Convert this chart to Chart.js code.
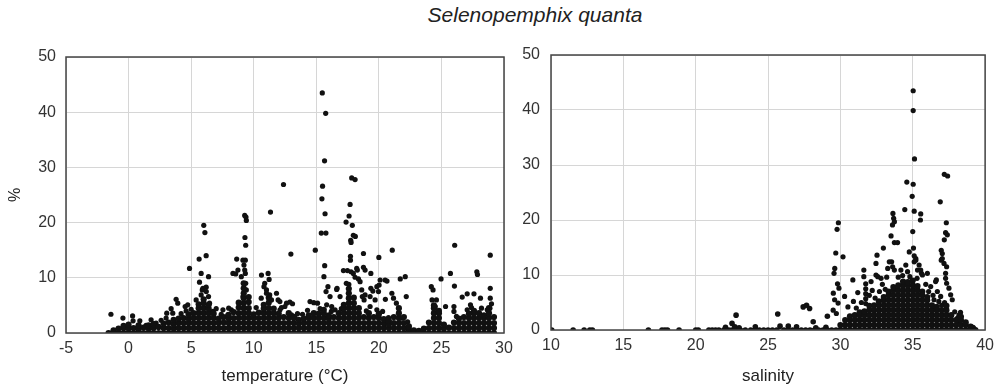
<!DOCTYPE html>
<html>
<head>
<meta charset="utf-8">
<script src="https://cdn.jsdelivr.net/npm/chart.js@4.4.1/dist/chart.umd.min.js"></script>
<style>
  body { margin: 0; background: #fff; }
  #wrap { position: relative; width: 1000px; height: 390px; overflow: hidden; }
  #title { position: absolute; top: 3px; left: 335px; width: 400px; text-align: center;
           font: italic 21px "Liberation Sans", Arial, sans-serif; color: #222; }
  .panel { position: absolute; top: 0; height: 390px; }
  #tempBox { left: 0; width: 520px; }
  #salBox { left: 510px; width: 490px; }
</style>
</head>
<body>
<div id="wrap">
  <div id="title">Selenopemphix quanta</div>
  <div class="panel" id="tempBox"><canvas id="tempChart"></canvas></div>
  <div class="panel" id="salBox"><canvas id="salChart"></canvas></div>
</div>
<script>
// axis ticks
const pctTicks = [0, 10, 20, 30, 40, 50];
const tempTicks = [-5, 0, 5, 10, 15, 20, 25, 30];
const salTicks = [10, 15, 20, 25, 30, 35, 40];

// temperature: dense low-abundance samples, one row per temperature [x, y, y, ...]
const tempLow = [
  [-1.6, 0], [-1.2, 0, 0.5], [-0.8, 0, 0.8], [-0.4, 0, 0.9, 1.3], [0.0, 0, 0.8, 1.5],
  [0.4, 0, 0.9], [0.8, 0, 0.7, 1.4], [1.2, 0, 1.0], [1.6, 0, 0.8, 1.4], [2.0, 0, 0.9, 1.6],
  [2.4, 0, 1.1], [2.8, 0, 0.9, 1.7], [3.2, 0, 0.9, 1.9], [3.6, 0, 0.8, 1.6, 2.4],
  [4.0, 0, 0.9, 1.8, 2.6], [4.4, 0, 0.9, 1.8, 2.7], [4.8, 0, 0.9, 1.8, 2.6, 3.4],
  [5.2, 0, 0.9, 1.8, 2.7, 3.6], [5.6, 0, 0.9, 1.8, 2.7, 3.6, 4.5, 5.2],
  [6.0, 0, 0.9, 1.8, 2.7, 3.6, 4.5, 5.4, 6.1], [6.4, 0, 0.9, 1.8, 2.7, 3.6, 4.4, 5.1],
  [6.8, 0, 0.9, 1.8, 2.7, 3.5], [7.2, 0, 0.9, 1.8, 2.6], [7.6, 0, 0.9, 1.9, 2.9],
  [8.0, 0, 0.9, 1.8, 2.6, 3.3], [8.4, 0, 0.9, 1.8, 2.7, 3.8], [8.8, 0, 0.9, 1.8, 2.7, 3.6, 4.6, 5.5],
  [9.2, 0, 0.9, 1.8, 2.7, 3.6, 4.5, 5.4, 6.3, 7.2, 8.1, 9.0], [9.6, 0, 0.9, 1.8, 2.7, 3.6, 4.5, 5.6, 6.5],
  [10.0, 0, 0.9, 1.8, 2.7, 3.4], [10.4, 0, 0.9, 1.8, 2.7, 3.7], [10.8, 0, 0.9, 1.8, 2.7, 3.6, 4.4, 5.1],
  [11.2, 0, 0.9, 1.8, 2.7, 3.6, 4.5, 5.5, 6.4], [11.6, 0, 0.9, 1.8, 2.7, 3.6, 4.4],
  [12.0, 0, 0.9, 1.8, 2.7, 3.5], [12.4, 0, 0.9, 1.8, 2.9], [12.8, 0, 0.9, 1.8, 2.7, 3.6],
  [13.2, 0, 0.9, 1.8, 2.7], [13.6, 0, 0.9, 1.7, 2.4], [14.0, 0, 0.9, 1.8, 2.6],
  [14.4, 0, 0.9, 1.8, 2.7, 3.2], [14.8, 0, 0.9, 1.8, 2.7, 3.6], [15.2, 0, 0.9, 1.8, 2.7, 3.5],
  [15.6, 0, 0.9, 1.8, 2.7, 3.6, 4.2], [16.0, 0, 0.9, 1.8, 2.6, 3.2], [16.4, 0, 0.9, 1.8, 2.9],
  [16.8, 0, 0.9, 1.8, 2.7, 3.6], [17.2, 0, 0.9, 1.8, 2.7, 3.6, 4.5, 5.1],
  [17.6, 0, 0.9, 1.8, 2.7, 3.6, 4.5, 5.4, 6.3, 7.2, 8.0], [18.0, 0, 0.9, 1.8, 2.7, 3.6, 4.5, 5.4, 6.4],
  [18.4, 0, 0.9, 1.8, 2.7, 3.6, 4.5], [18.8, 0, 0.9, 1.8, 2.9], [19.2, 0, 0.9, 1.8, 2.7, 3.6],
  [19.6, 0, 0.9, 1.8, 2.9], [20.0, 0, 0.9, 1.8, 2.7, 3.4], [20.4, 0, 0.9, 1.7, 2.5],
  [20.8, 0, 0.9, 1.6, 2.2], [21.2, 0, 0.9, 1.8, 2.9], [21.6, 0, 0.9, 1.8, 2.7, 3.6, 4.5],
  [22.0, 0, 0.9, 1.8, 2.9], [22.4, 0, 0.6, 1.2], [22.8, 0, 0.5], [23.2, 0, 0.4], [23.6, 0, 0.8],
  [24.0, 0, 0.9, 1.9], [24.4, 0, 0.9, 1.8, 2.7, 3.6, 4.5, 5.0], [24.8, 0, 0.9, 1.8, 2.7, 3.6, 4.0],
  [25.2, 0, 0.8, 1.5], [25.6, 0, 1.0], [26.0, 0, 0.9, 1.9], [26.4, 0, 0.9, 1.8, 2.6],
  [26.8, 0, 0.9, 1.8, 2.9], [27.2, 0, 0.9, 1.8, 2.7, 3.5], [27.6, 0, 0.9, 1.8, 2.7, 3.6, 4.0],
  [28.0, 0, 0.9, 1.8, 2.7, 3.6], [28.4, 0, 0.9, 1.8, 2.7, 3.2], [28.8, 0, 0.9, 1.8, 2.7, 3.6, 4.5],
  [29.2, 0, 0.9, 1.8, 2.9]
];

// temperature: scattered higher samples [x, y]
const tempHigh = [
  [-1.41, 3.4], [-0.45, 2.7], [0.32, 3.1], [0.36, 2.2], [1.4, 1.4], [2.2, 1.8],
  [0.9, 2.2], [1.8, 2.4], [2.6, 2.3], [3.0, 2.7], [4.2, 3.5], [4.6, 4.0], [5.0, 4.3],
  [3.05, 3.6], [3.4, 4.4], [3.53, 3.6], [3.8, 6.1], [3.93, 5.4], [4.52, 4.8], [4.73, 5.1],
  [4.87, 11.7], [5.64, 13.4], [6.2, 14.0], [6.01, 19.5], [6.1, 18.2],
  [5.8, 10.8], [6.39, 10.2], [5.67, 9.2], [6.2, 8.3], [5.89, 7.8], [6.39, 6.6], [5.94, 8.1],
  [5.8, 6.9], [6.21, 7.5], [5.4, 6.0], [6.47, 5.4], [6.74, 3.9], [7.54, 4.2], [7.94, 3.3], [8.21, 4.2],
  [7.0, 4.4], [7.4, 3.4], [8.0, 4.5],
  [8.34, 10.8], [8.56, 10.7], [8.64, 13.4], [8.74, 11.4],
  [9.28, 21.3], [9.38, 21.0], [9.41, 20.4], [9.3, 17.3], [9.36, 15.9], [9.33, 13.2], [9.14, 13.2],
  [9.22, 12.3], [9.28, 11.4], [9.33, 10.8], [9.01, 10.2], [9.36, 9.0], [9.41, 7.8], [9.14, 6.6],
  [10.62, 10.5], [10.88, 9.0], [11.15, 10.8], [11.23, 9.7], [10.82, 8.4], [11.02, 7.8], [11.28, 6.9],
  [11.02, 7.2], [11.42, 6.0], [11.82, 7.2], [11.95, 6.0], [12.09, 5.7], [12.22, 4.6], [12.49, 4.8],
  [12.62, 5.4], [12.89, 5.6], [13.1, 5.3], [13.02, 3.3], [13.29, 3.0],
  [10.2, 4.6], [10.6, 6.3], [12.1, 4.2], [13.5, 3.5], [13.9, 3.4], [14.3, 4.1],
  [11.34, 21.9], [12.38, 26.9], [12.97, 14.3], [14.92, 15.0],
  [14.5, 5.7], [14.8, 5.5], [15.1, 5.4], [15.3, 4.4], [16.2, 3.9], [17.0, 4.4],
  [15.48, 43.5], [15.75, 39.8], [15.66, 31.2], [15.5, 26.6], [15.45, 24.3], [15.7, 21.6],
  [15.4, 18.1], [15.77, 18.1], [15.67, 12.2], [15.61, 10.2], [15.93, 8.4], [15.78, 7.5],
  [16.1, 6.6], [16.63, 7.9], [16.9, 6.6], [15.83, 5.1], [16.23, 4.8], [16.5, 4.2], [16.66, 8.1],
  [17.83, 28.1], [18.1, 27.8], [17.7, 23.3], [17.62, 21.2], [17.38, 20.1], [17.88, 19.5],
  [17.96, 17.7], [18.12, 17.5], [17.75, 16.8], [17.78, 16.4], [17.73, 13.9], [17.73, 13.2],
  [17.17, 11.3], [17.49, 11.3], [17.78, 11.1], [17.96, 10.8], [18.23, 11.7], [18.28, 11.4],
  [18.77, 11.9], [18.9, 11.4], [18.1, 10.1], [18.37, 9.8], [18.5, 9.3], [18.77, 14.4],
  [17.4, 9.0], [17.6, 8.8], [18.63, 7.8], [18.9, 6.9], [18.68, 6.6], [18.82, 6.0],
  [19.36, 10.8], [20.0, 13.7], [21.07, 15.0], [19.3, 6.6], [19.7, 6.0], [19.3, 4.8], [19.84, 4.2],
  [19.84, 8.4], [19.97, 7.5], [20.02, 8.7], [19.36, 8.1], [19.52, 7.6], [20.1, 9.6], [20.5, 9.6],
  [20.65, 9.4], [21.71, 9.8], [22.11, 10.2], [21.04, 7.2], [21.17, 6.3], [22.19, 6.6], [20.52, 6.1],
  [19.97, 3.6], [20.77, 2.8], [21.85, 2.7], [19.0, 4.0], [20.3, 3.9], [21.4, 5.4], [22.3, 2.0],
  [24.19, 8.4], [24.33, 7.8], [24.25, 6.0], [24.51, 4.8], [24.97, 9.8], [25.72, 10.8], [26.04, 8.5],
  [26.06, 15.9], [26.0, 4.8], [26.0, 3.9], [25.33, 4.8], [26.66, 6.5], [27.06, 7.1], [27.6, 7.1],
  [28.12, 6.3], [27.83, 11.1], [27.88, 10.6], [28.9, 14.1], [28.9, 8.1], [28.9, 6.3], [28.87, 4.5],
  [27.06, 4.2], [27.32, 5.1], [28.66, 4.2], [24.6, 6.0], [26.2, 3.0], [27.4, 4.6], [28.2, 4.5], [29.0, 5.3]
];

// salinity: isolated low-salinity samples [x, y]
const salFresh = [
  [10.05, 0], [11.53, 0], [12.29, 0], [12.68, 0], [12.86, 0], [16.73, 0], [17.67, 0], [17.87, 0],
  [18.05, 0], [18.85, 0], [20.0, 0], [20.18, 0], [20.91, 0], [21.14, 0], [21.37, 0], [21.6, 0],
  [21.94, 0], [22.29, 0], [22.51, 0], [22.74, 0], [23.09, 0], [23.43, 0],
  [22.79, 2.7], [22.51, 1.2], [22.06, 0.5], [22.7, 0.6], [23.0, 0.4],
  [23.8, 0], [24.1, 0], [24.12, 0.6], [24.4, 0], [24.7, 0], [25.0, 0], [25.3, 0], [25.6, 0], [25.83, 0.7],
  [26.1, 0], [26.4, 0], [26.4, 0.7], [26.7, 0], [26.97, 0.6], [27.0, 0], [27.3, 0], [27.6, 0],
  [27.9, 0], [28.2, 0], [28.5, 0], [28.8, 0], [29.1, 0], [29.4, 0], [29.7, 0],
  [25.67, 2.9], [27.43, 4.2], [27.66, 4.5], [27.87, 3.9], [28.12, 1.5], [29.1, 2.5], [28.3, 0.4], [29.0, 0.5]
];

// salinity: dense marine samples, one row per salinity [x, y, y, ...]
const salLow = [
  [30.0, 0, 0.9], [30.33, 0, 0.9, 1.8], [30.66, 0, 0.9, 1.8, 2.5], [31.0, 0, 0.9, 1.8, 2.7],
  [31.33, 0, 0.9, 1.8, 2.7, 3.2], [31.66, 0, 0.9, 1.8, 2.7, 3.4], [32.0, 0, 0.9, 1.8, 2.7, 3.6, 4.4],
  [32.33, 0, 0.9, 1.8, 2.7, 3.6, 4.5], [32.66, 0, 0.9, 1.8, 2.7, 3.6, 4.5, 5.2],
  [33.0, 0, 0.9, 1.8, 2.7, 3.6, 4.5, 5.4, 6.0], [33.33, 0, 0.9, 1.8, 2.7, 3.6, 4.5, 5.4, 6.3, 7.0],
  [33.66, 0, 0.9, 1.8, 2.7, 3.6, 4.5, 5.4, 6.3, 7.2, 7.8],
  [34.0, 0, 0.9, 1.8, 2.7, 3.6, 4.5, 5.4, 6.3, 7.2, 8.1],
  [34.33, 0, 0.9, 1.8, 2.7, 3.6, 4.5, 5.4, 6.3, 7.2, 8.1, 8.8],
  [34.66, 0, 0.9, 1.8, 2.7, 3.6, 4.5, 5.4, 6.3, 7.2, 8.1, 8.7],
  [35.0, 0, 0.9, 1.8, 2.7, 3.6, 4.5, 5.4, 6.3, 7.2, 8.1, 9.0],
  [35.33, 0, 0.9, 1.8, 2.7, 3.6, 4.5, 5.4, 6.3, 7.2, 8.0],
  [35.66, 0, 0.9, 1.8, 2.7, 3.6, 4.5, 5.4, 6.3, 7.0],
  [36.0, 0, 0.9, 1.8, 2.7, 3.6, 4.5, 5.4, 6.0], [36.33, 0, 0.9, 1.8, 2.7, 3.6, 4.5],
  [36.66, 0, 0.9, 1.8, 2.7, 3.6, 4.2], [37.0, 0, 0.9, 1.8, 2.7, 3.6], [37.33, 0, 0.9, 1.8, 2.7, 3.6, 4.4],
  [37.66, 0, 0.9, 1.8, 2.7], [38.0, 0, 0.9, 1.8], [38.33, 0, 0.9, 1.8, 2.4], [38.66, 0, 0.9, 1.4],
  [39.0, 0, 0.6], [39.33, 0]
];

// salinity: scattered higher samples [x, y]
const salHigh = [
  [35.03, 43.5], [35.03, 39.9], [35.12, 31.1], [34.59, 26.9], [35.03, 26.5], [34.96, 24.3],
  [37.18, 28.3], [37.41, 28.0], [36.9, 23.3], [34.45, 21.9], [35.1, 21.6], [35.55, 21.1], [35.53, 20.0],
  [33.63, 21.2], [33.68, 20.3], [33.73, 19.7], [33.6, 19.1], [37.32, 19.5], [37.27, 17.7], [37.18, 16.4],
  [37.39, 17.3], [35.0, 17.9], [33.5, 17.1], [33.73, 15.9], [33.95, 15.9], [32.97, 14.9], [32.53, 13.6],
  [34.76, 14.2], [35.05, 14.9], [35.1, 13.5], [35.21, 13.0], [29.86, 19.5], [29.77, 18.3],
  [29.68, 14.0], [30.18, 13.3], [29.61, 11.2], [29.56, 10.3], [30.86, 9.1], [31.62, 10.9], [31.62, 9.7],
  [32.46, 10.0], [32.81, 9.4], [32.12, 8.8], [32.58, 9.7], [32.46, 12.1], [33.54, 12.4], [33.61, 11.5],
  [34.18, 10.9], [35.21, 12.7], [35.33, 10.9], [35.6, 10.3], [36.97, 14.5], [36.97, 12.7],
  [37.04, 13.9], [37.04, 13.0], [37.16, 12.1], [37.34, 11.5], [37.27, 10.3], [37.27, 9.4], [37.34, 8.5],
  [37.5, 7.6], [37.62, 6.4], [37.73, 5.5], [36.63, 9.1], [36.24, 7.9], [36.58, 8.8], [36.7, 7.0],
  [36.93, 6.1], [36.47, 5.5], [33.38, 12.4], [33.27, 11.2], [33.73, 10.9], [34.52, 11.8], [34.64, 10.6],
  [35.1, 12.4], [35.44, 11.8], [35.55, 10.9], [35.67, 10.0], [36.01, 10.3],
  [29.51, 6.7], [29.6, 5.5], [29.84, 4.9], [30.29, 6.1], [30.52, 4.2], [29.5, 3.6], [29.72, 3.0],
  [29.8, 8.4], [29.9, 7.6], [38.07, 2.1], [38.19, 1.5], [38.19, 2.7], [39.17, 0.5], [38.99, 0.6], [39.22, 0.3],
  [31.75, 8.4], [31.75, 7.5], [31.75, 6.6], [31.75, 5.7], [31.75, 4.8],
  [30.9, 5.2], [31.1, 4.0], [31.2, 6.8], [31.45, 5.0], [32.0, 6.3], [32.2, 7.2], [32.4, 5.8],
  [32.7, 7.0], [32.9, 8.3], [33.1, 7.4], [33.2, 9.6], [34.0, 9.6], [34.3, 9.9], [34.8, 9.7],
  [35.3, 9.4], [35.9, 8.3], [36.1, 7.0], [36.4, 6.3], [36.8, 5.2], [37.0, 4.5], [37.2, 5.0],
  [37.9, 3.3], [38.3, 3.2]
];

Chart.defaults.font.family = '"Liberation Sans", Arial, Helvetica, sans-serif';
Chart.defaults.color = '#333';

const toPoints = rows => rows.map(([x, y]) => ({ x, y }));
const fromColumns = cols => cols.flatMap(([x, ...ys]) => ys.map(y => ({ x, y })));

// dark box around the plot area
const framePlugin = {
  id: 'frame',
  afterDraw(chart) {
    const { ctx, chartArea: a } = chart;
    ctx.save();
    ctx.strokeStyle = '#444';
    ctx.lineWidth = 1.5;
    ctx.strokeRect(a.left, a.top, a.right - a.left, a.bottom - a.top);
    ctx.restore();
  }
};

// the packed band uses slightly bigger dots so neighbours merge into a solid mass
const dots = (data, r) => ({ data, pointRadius: r, pointBackgroundColor: '#111', pointBorderWidth: 0 });

function makePanel(id, datasets, xRange, xTicks, xTitle, box) {
  return new Chart(document.getElementById(id), {
    type: 'scatter',
    data: { datasets },
    options: {
      animation: false,
      responsive: true,
      maintainAspectRatio: false,
      events: [],
      layout: { padding: { top: box.top, right: box.right, left: 0, bottom: 0 } },
      plugins: { legend: { display: false }, tooltip: { enabled: false } },
      scales: {
        x: {
          type: 'linear',
          min: xRange[0],
          max: xRange[1],
          afterBuildTicks: s => { s.ticks = xTicks.map(v => ({ value: v })); },
          afterFit: s => { s.height = box.xHeight; },
          grid: { color: '#d6d6d6', drawTicks: false },
          border: { display: false },
          ticks: { padding: 6, autoSkip: false, maxRotation: 0, color: '#333', font: { size: 16 } },
          title: { display: true, text: xTitle, color: '#222', font: { size: 17 }, padding: { top: 0, bottom: 3 } }
        },
        y: {
          type: 'linear',
          min: 0,
          max: 50,
          afterBuildTicks: s => { s.ticks = pctTicks.map(v => ({ value: v })); },
          afterFit: s => { s.width = box.yWidth; },
          grid: { color: '#d6d6d6', drawTicks: false },
          border: { display: false },
          ticks: { padding: box.yPad, autoSkip: false, color: '#333', font: { size: 16 } },
          title: { display: box.yTitle, text: '%', color: '#222', font: { size: 16 }, padding: { top: 6, bottom: 0 } }
        }
      }
    },
    plugins: [framePlugin]
  });
}

makePanel('tempChart',
  [dots(fromColumns(tempLow), 3.1), dots(toPoints(tempHigh), 2.6)],
  [-5, 30], tempTicks, 'temperature (°C)',
  { top: 57, right: 16, xHeight: 57, yWidth: 66, yPad: 10, yTitle: true });

makePanel('salChart',
  [dots(toPoints(salFresh), 2.8), dots(fromColumns(salLow), 3.1), dots(toPoints(salHigh), 2.6)],
  [10, 40], salTicks, 'salinity',
  { top: 55, right: 12, xHeight: 60, yWidth: 41, yPad: 11, yTitle: false });
</script>
</body>
</html>
